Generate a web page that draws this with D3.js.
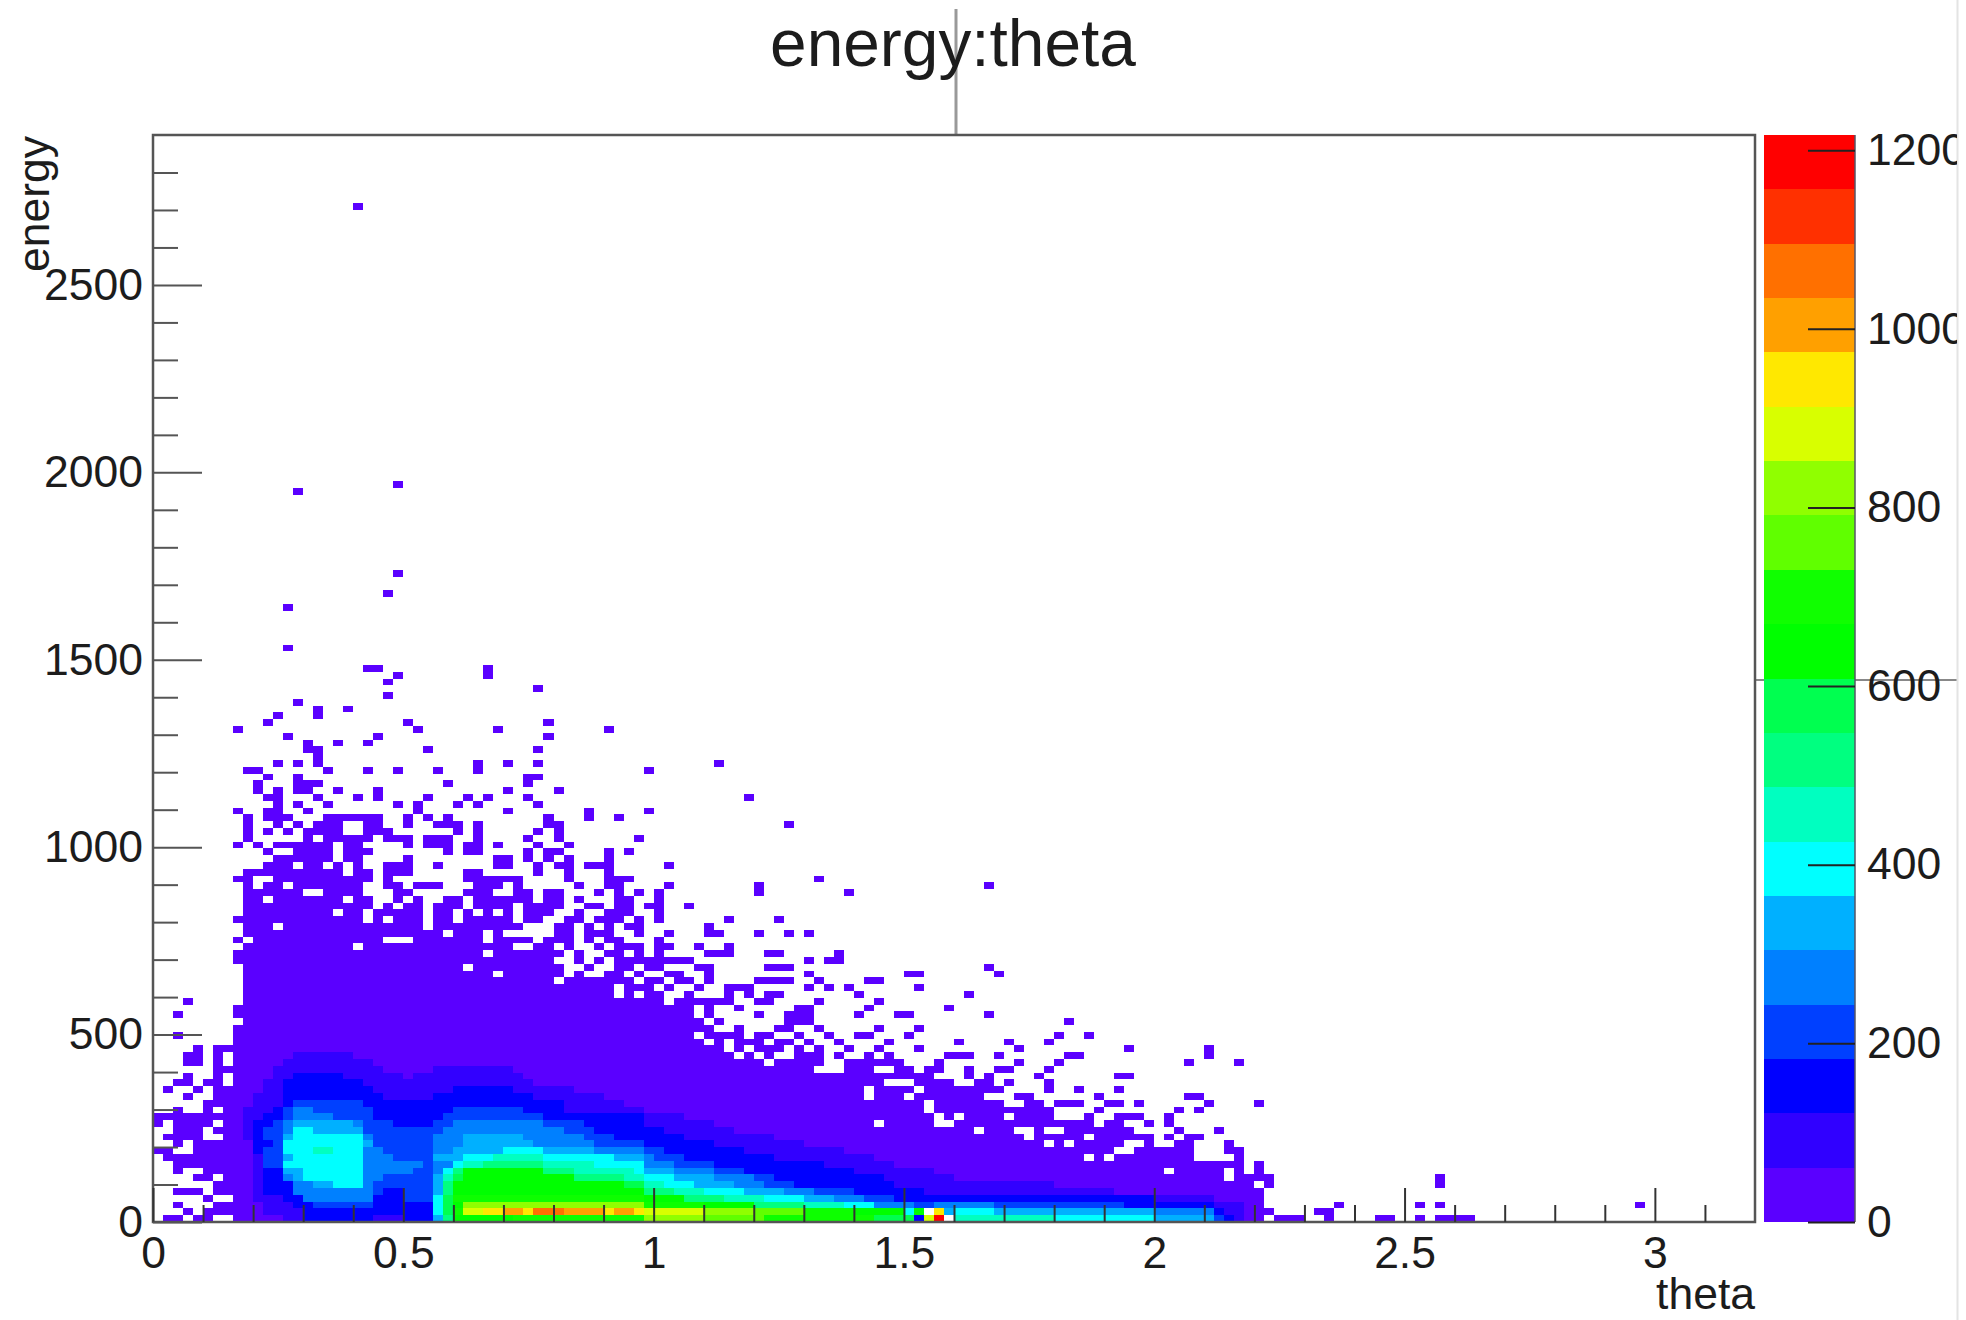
<!DOCTYPE html>
<html><head><meta charset="utf-8">
<style>html,body{margin:0;padding:0;background:#fff}svg{display:block}
text{font-family:"Liberation Sans",Arial,sans-serif;fill:#1c1c1c}</style>
<script src="https://cdn.jsdelivr.net/npm/d3@7"></script></head><body>
<script>
const titleText = "energy:theta", xLabel = "theta", yLabel = "energy";
const xMajorTicks = [0,0.5,1,1.5,2,2.5,3];
const xMinorTicks = [0.1,0.2,0.3,0.4,0.6,0.7,0.8,0.9,1.1,1.2,1.3,1.4,1.6,1.7,1.8,1.9,2.1,2.2,2.3,2.4,2.6,2.7,2.8,2.9,3.1];
const yMajorTicks = [0,500,1000,1500,2000,2500];
const yMinorTicks = [100,200,300,400,600,700,800,900,1100,1200,1300,1400,1600,1700,1800,1900,2100,2200,2300,2400,2600,2700,2800];
const zTicks = [0,200,400,600,800,1000,1200];
const xMax = 3.2, yMax = 2900, zMax = 1217;
const xBins = 160, yBins = 160;
const palette = ["#5a00ff","#3000ff","#0000ff","#0040ff","#0080ff","#00b0ff","#00ffff","#00ffc0","#00ff80","#00ff50",
 "#00ff00","#10ff00","#60ff00","#90ff00","#d8ff00","#ffe800","#ffa000","#ff7000","#ff3000","#ff0000"];

// Continuous populated span [first,last] of each energy row (row index = array index)
const massRows = [[8,110],[8,111],[8,110],[8,110],[8,110],[8,109],[8,110],[8,108],[8,108],[8,103],
 [8,103],[8,103],[8,104],[8,97],[8,93],[8,89],[8,89],[8,88],[8,82],[8,84],
 [8,83],[8,77],[8,65],[8,66],[8,66],[8,62],[8,60],[8,58],[8,55],[9,54],
 [8,53],[9,53],[9,57],[9,50],[9,49],[9,50],[9,46],[9,47],[8,48],[8,46],
 [9,47],[10,46],[9,48],[9,45],[8,46],[9,44],[9,47],[9,47],[9,20],[9,20],
 [9,21],[9,21],[11,20],[12,20],[14,20],[12,20],[15,21],[15,18],[16,18],[17,22]];

// Empty cells inside those spans, one list per row
const holeRows = [[79],[77],[],[],[],[],[107],[101,107],[],[93,95],
 [96,97],[89,91,97,98,100,101],[87,93,100,102],[82,86,87,89,90],[72,78,79],[78,80,85],[77],[77,85,86],[71,75],[71,76],
 [73,74,75,80,81],[],[],[61],[58,60,62,63],[57,59],[55,57],[54],[],[],
 [],[],[51],[46,48],[46],[40,48],[34,41,43,44],[31,41,42,44,45],[40,41,43,45],[33,41,43,44],
 [20,36,37,40,42,43,45],[23,24,25,33,38,42,44],[29,33,35,36,37,38,39,42,46,47],[12,27,37,38,39,42,44],[21,23,27,30,36,39,40,43],[18,21,27,30,32,34,36,40,41,43,44],[22,24,27,31,36,41,42,45],[11,19,22,23,25,27,28,31,38,41,43,44,45],[15,16],[10,13],
 [10,11],[19],[14,17,19],[18],[18],[18],[16],[],[],[]];

// Isolated occupied cells outside the spans, as [row, [columns]]
const scatterCells = [
 [0,[1,2,4,5,112,113,114,117,122,123,126,128,129,130,131]],[1,[3,5,6,7,116,117]],[2,[2,6,7,118,126,128,148]],[3,[5]],[4,[2,3,4,6,7]],[5,[6,7,111,128]],[6,[4,5,7,111,128]],[7,[2,5,6,7,110]],[8,[2,3,4,5,6,7,110]],[9,[1,2,3,4,5,6,7,108]],
 [10,[0,1,4,5,6,7,107,108]],[11,[2,4,5,6,7,107]],[12,[1,2,3,4,7,101,103,104]],[13,[2,3,4,6,7,102,106]],[14,[0,2,3,4,5,7,95,96,99,101]],[15,[0,1,2,3,4,5,6,7,93,96,97,98,101]],[16,[2,5,7,94,102,104]],[17,[5,6,7,90,91,92,95,96,98,105,110]],[18,[3,6,7,86,87,94,103,104]],[19,[1,4,6,7,89,92,96]],
 [20,[2,3,5,6,85,89]],[21,[3,6,81,83,88,96,97]],[22,[6,7,69,70,71,74,75,77,78,81,84,85,89]],[23,[3,4,6,69,70,71,72,73,74,78,86,90,103,108]],[24,[3,4,6,68,71,73,79,80,81,84,91,92,105]],[25,[4,6,7,64,66,69,72,76,86,97,105]],[26,[62,63,65,68,73,80,85,89]],[27,[2,60,61,64,67,70,71,75,90,93]],[28,[58,62,63,66,72,76]],[29,[56,63,64,65,91]],
 [30,[2,55,60,63,64,65,70,74,75,83]],[31,[8,55,58,64,65,71,79]],[32,[3,60,61,66,72]],[33,[53,57,59,61,62,70,81]],[34,[51,54,57,58,59,65,67,69,76]],[35,[52,53,55,60,61,62,63,66,71,72]],[36,[48,51,52,55,65,75,76,84]],[37,[49,50,54,55,61,62,63,83]],[38,[49,50,51,52,53,65,67,68]],[39,[48,50,55,56,57,61,62,68]],
 [40,[48,50,51,54,57]],[41,[8,50]],[42,[51,55,56,60,63,65]],[43,[47,48,55]],[44,[48,50,57,62]],[45,[45,46,47,50]],[46,[49,50,53]],[47,[50]],[48,[24,25,31,32,33,36,37,39,40,44,46,48,50,60,69]],[49,[23,24,26,27,28,32,33,34,36,42,45,46,51,60,83]],
 [50,[8,23,31,32,33,34,35,36,41,45,46,47,66]],[51,[23,24,25,31,32,38,41,45]],[52,[23,24,25,28,34,35,38,40,41,43,44,45,51]],[53,[25,34,35,37,39,41,45]],[54,[11,21,29,31,32,37,39,40,45,47]],[55,[8,10,25,27,28,29,31,32,34,38,41]],[56,[9,23,24,25,27,28,29,32,37,40,48]],[57,[9,11,13,21,22,23,30,32,38,40]],[58,[9,12,14,21,22,25,28,29,30,32,39,40,63]],[59,[9,11,12,13,25,27,29,39,43,46]],
 [60,[8,11,12,15,26,35,43,49]],[61,[12,14,17,24,26,30,32,38]],[62,[11,12,16,20,22,27,31,33,37,59]],[63,[10,12,14,15,18,22,35,40]],[64,[10,14,15,16,29,37]],[65,[11,14,37,38]],[66,[9,10,17,21,24,28,32,49]],[67,[12,14,16,32,35,38,56]],[68,[16]],[69,[15,16,27,38]],
 [70,[15,18,21]],[71,[13,22,39]],[72,[8,26,34,45]],[73,[11,25,39]],[74,[12,16]],[75,[16,19]],[76,[14]],[77,[23]],[78,[38]],[79,[23]],
 [80,[24,33]],[81,[21,22,33]],[84,[13]],[90,[13]],[92,[23]],[95,[24]],[107,[14]],[108,[24]],[149,[20]]];

// Colour-band runs of the dense region: [startColumn, band, startColumn, band, ...], one list per row
const bandRuns = [
 [13,1,15,2,22,1,25,2,28,5,29,8,30,10,36,11,49,13,55,12,61,11,72,9,76,2,77,14,78,19,80,7,90,6,100,5,106,3,107,2,108,1,109,0],
 [11,1,15,2,28,6,29,9,30,11,31,14,33,15,35,16,37,15,38,17,41,16,45,15,46,16,48,15,49,14,55,13,60,12,65,11,70,10,75,6,76,10,78,15,79,5,80,6,84,5,100,4,106,2,107,1,109,0],
 [11,1,14,2,16,3,22,2,28,6,29,9,30,10,31,13,49,11,55,10,60,8,65,7,69,6,72,4,76,3,78,4,84,3,97,2,106,1,109,0],
 [10,1,13,2,15,4,22,2,25,3,28,6,29,9,30,11,49,10,53,8,57,7,61,6,65,5,68,4,71,3,74,2,100,1,106,0],
 [10,1,11,2,14,4,22,3,23,2,25,3,28,5,29,8,30,10,49,8,52,7,55,6,59,5,63,4,66,3,70,2,77,1,96,0],
 [10,1,11,2,14,4,16,5,18,6,21,4,22,3,28,5,29,8,30,10,47,9,49,7,51,6,54,5,58,4,61,3,64,2,74,1,90,0],
 [10,1,11,2,13,4,14,5,15,6,21,4,23,3,28,5,29,7,30,9,31,10,42,8,47,7,49,6,52,5,56,4,60,3,62,2,73,1,80,0],
 [10,1,11,2,13,5,15,6,21,4,26,3,28,4,29,6,30,8,31,10,39,8,42,7,48,6,49,5,52,4,56,3,59,2,70,1,78,0],
 [10,1,11,3,13,6,21,4,27,3,28,4,30,6,31,7,33,8,39,7,44,6,49,4,52,3,56,2,67,1,74,0],
 [10,1,11,3,13,5,14,6,21,4,24,3,28,5,31,6,34,7,39,6,46,5,49,4,50,3,53,2,62,1,72,0],
 [10,2,11,3,13,6,16,7,18,6,21,4,23,3,28,4,30,5,35,6,39,5,44,4,49,3,51,2,59,1,69,0],
 [10,2,12,3,13,6,21,5,22,3,28,4,31,5,38,4,44,3,49,2,56,1,65,0],
 [9,1,10,2,11,3,13,5,14,6,21,4,22,3,28,4,31,5,37,4,43,3,46,2,53,1,62,0],
 [9,1,10,2,11,3,13,4,14,6,16,5,21,3,29,4,41,3,44,2,51,1,58,0],
 [9,1,10,2,12,3,13,4,14,5,20,4,21,3,24,2,28,3,30,4,39,3,43,2,49,1,56,0],
 [9,1,11,2,13,3,14,4,18,3,22,2,29,3,39,2,49,1,53,0],
 [9,1,12,2,13,3,14,4,16,3,22,2,30,3,37,2,41,1,49,0],
 [10,1,13,2,14,3,21,2,41,1,47,0],
 [10,1,13,2,23,1,28,2,38,1,45,0],
 [11,1,13,2,22,1,30,2,36,1,42,0],
 [11,1,13,2,21,1,38,0],
 [12,1,14,2,19,1,25,0,26,1,37,0],
 [12,1,23,0,28,1,36,0],
 [13,1,22,0],
 [14,1,20,0]];

const W = 1966, H = 1320;
const box = {l:153, r:1755, t:135, b:1222};
const barBox = {l:1764, r:1855};
const frame = "#555", fs = 44.5;

const x = d3.scaleLinear().domain([0,xMax]).range([box.l,box.r]);
const y = d3.scaleLinear().domain([0,yMax]).range([box.b,box.t]);
const z = d3.scaleLinear().domain([0,zMax]).range([box.b,box.t]);
const colour = d3.scaleQuantize().domain([0,zMax]).range(palette);
const zStep = zMax / palette.length;
const dx = xMax / xBins, dy = yMax / yBins;

// Assemble the bin contents
const cells = new Map();
const key = (r,c) => r * 1000 + c;
massRows.forEach((s,r) => { for (let c = s[0]; c <= s[1]; c++) cells.set(key(r,c), {r,c,band:0}); });
bandRuns.forEach((runs,r) => {
  for (let i = 0; i < runs.length; i += 2) {
    const end = i + 2 < runs.length ? runs[i+2] : runs[i] + 1;
    for (let c = runs[i]; c < end; c++) if (cells.has(key(r,c))) cells.get(key(r,c)).band = runs[i+1];
  }
});
holeRows.forEach((h,r) => h.forEach(c => cells.delete(key(r,c))));
scatterCells.forEach(([r,cols]) => cols.forEach(c => { if (!cells.has(key(r,c))) cells.set(key(r,c), {r,c,band:0}); }));
const data = Array.from(cells.values()).map(d => ({...d, value:(d.band + 0.5) * zStep}));

const svg = d3.select("body").append("svg").attr("width",W).attr("height",H);
const defs = svg.append("defs");
defs.append("clipPath").attr("id","page").append("rect").attr("x",0).attr("y",0).attr("width",1957).attr("height",H);
defs.append("filter").attr("id","soft").attr("x",0).attr("y",0).attr("width",1).attr("height",1)
  .append("feGaussianBlur").attr("stdDeviation",0.7);

// Stray guide lines of the original screenshot
svg.append("line").attr("x1",956).attr("x2",956).attr("y1",9).attr("y2",box.t).attr("stroke","#999").attr("stroke-width",3);
svg.append("line").attr("x1",box.r).attr("x2",1957).attr("y1",680).attr("y2",680).attr("stroke","#888").attr("stroke-width",2);
svg.append("line").attr("x1",1957.5).attr("x2",1957.5).attr("y1",0).attr("y2",H).attr("stroke","#e4e4e4").attr("stroke-width",2);

// Histogram bins
svg.append("g").attr("filter","url(#soft)").selectAll("rect").data(data).join("rect")
  .attr("x",d => x(d.c * dx))
  .attr("width",d => x((d.c + 1) * dx) - x(d.c * dx))
  .attr("y",d => y((d.r + 1) * dy))
  .attr("height",d => y(d.r * dy) - y((d.r + 1) * dy))
  .attr("fill",d => colour(d.value))
  .attr("shape-rendering","crispEdges");

// Frame
svg.append("rect").attr("x",box.l).attr("y",box.t).attr("width",box.r-box.l).attr("height",box.b-box.t)
  .attr("fill","none").attr("stroke",frame).attr("stroke-width",2.5);

function style(g, stroke) {
  g.select(".domain").remove();
  g.selectAll("line").attr("stroke",stroke).attr("stroke-width",2);
  g.selectAll("text").attr("font-size",fs).attr("font-family",'"Liberation Sans",Arial,sans-serif').attr("fill","#1c1c1c");
}
// X axis
svg.append("g").attr("transform",`translate(0,${box.b})`)
  .call(d3.axisBottom(x).tickValues(xMinorTicks).tickSizeInner(-17).tickSizeOuter(0).tickFormat(""))
  .call(g => style(g,"#333"));
svg.append("g").attr("transform",`translate(0,${box.b})`)
  .call(d3.axisBottom(x).tickValues(xMajorTicks).tickSizeInner(-34).tickSizeOuter(0).tickPadding(14).tickFormat(d3.format("~g")))
  .call(g => style(g,"#333"));
// Y axis
svg.append("g").attr("transform",`translate(${box.l},0)`)
  .call(d3.axisLeft(y).tickValues(yMinorTicks).tickSizeInner(-25).tickSizeOuter(0).tickFormat(""))
  .call(g => style(g,"#555"));
svg.append("g").attr("transform",`translate(${box.l},0)`)
  .call(d3.axisLeft(y).tickValues(yMajorTicks).tickSizeInner(-49).tickSizeOuter(0).tickPadding(10).tickFormat(d3.format("d")))
  .call(g => style(g,"#555"));

// Colour bar
svg.append("g").selectAll("rect").data(palette).join("rect")
  .attr("x",barBox.l).attr("width",barBox.r-barBox.l)
  .attr("y",(d,i) => z((i + 1) * zStep))
  .attr("height",(d,i) => z(i * zStep) - z((i + 1) * zStep))
  .attr("fill",d => d).attr("shape-rendering","crispEdges");
svg.append("line").attr("x1",barBox.r).attr("x2",barBox.r).attr("y1",box.t).attr("y2",box.b).attr("stroke","#556").attr("stroke-width",2).attr("opacity",0.75);
svg.append("g").attr("clip-path","url(#page)").append("g").attr("transform",`translate(${barBox.r},0)`)
  .call(d3.axisRight(z).tickValues(zTicks).tickSizeInner(-47).tickSizeOuter(0).tickPadding(12).tickFormat(d3.format("d")))
  .call(g => style(g,"#222"));

// Titles
svg.append("text").attr("x",953).attr("y",66).attr("text-anchor","middle").attr("font-size",65.8).text(titleText);
svg.append("text").attr("x",box.r).attr("y",1309).attr("text-anchor","end").attr("font-size",fs).text(xLabel);
svg.append("text").attr("transform","translate(49,136) rotate(-90)").attr("text-anchor","end").attr("font-size",fs).text(yLabel);
</script></body></html>
